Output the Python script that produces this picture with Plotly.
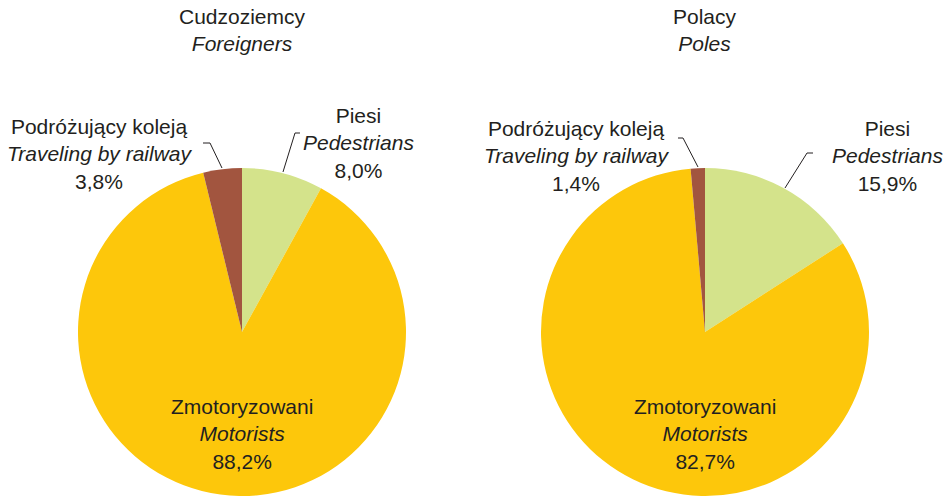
import plotly.graph_objects as go

W, H = 946, 496

categories_pl = ["Piesi", "Zmotoryzowani", "Podróżujący koleją"]
categories_en = ["Pedestrians", "Motorists", "Traveling by railway"]
foreigners = [8.0, 88.2, 3.8]
poles = [15.9, 82.7, 1.4]
titles_pl = ["Cudzoziemcy", "Polacy"]
titles_en = ["Foreigners", "Poles"]
colors = ["#D4E38B", "#FDC70B", "#A2553F"]

FONT = "Liberation Sans, Arial, sans-serif"
TXT = "#231F20"
FS = 21


def px(x):
    return x / W


def py(y):
    return 1 - y / H


def fmt(v):
    return f"{v:.1f}".replace(".", ",") + "%"


fig = go.Figure()

pies = [
    (foreigners, 242, 165),
    (poles, 705, 165),
]
for vals, cx, r in pies:
    fig.add_trace(go.Pie(
        labels=categories_pl,
        values=vals,
        sort=False,
        direction="clockwise",
        rotation=0,
        marker=dict(colors=colors, line=dict(width=0)),
        textinfo="none",
        hoverinfo="label+percent",
        showlegend=False,
        domain=dict(x=[px(cx - r), px(cx + r)], y=[0, py(168)]),
    ))

# label positions (pixel centres) for each pie: pedestrians, motorists, railway, title
label_pos = [
    {"title": (242, 30), 0: (358, 143), 1: (242, 434), 2: (100, 154)},
    {"title": (705, 30), 0: (887, 156), 1: (705, 434), 2: (577, 156)},
]
data_sets = [foreigners, poles]
annotations = []
for k, vals in enumerate(data_sets):
    pos = label_pos[k]
    tx, ty = pos["title"]
    annotations.append(dict(
        x=px(tx), y=py(ty), xref="paper", yref="paper",
        text=f"{titles_pl[k]}<br><i>{titles_en[k]}</i>",
        showarrow=False, xanchor="center", yanchor="middle",
        font=dict(family=FONT, size=FS, color=TXT),
    ))
    for i in range(3):
        lx, ly = pos[i]
        annotations.append(dict(
            x=px(lx), y=py(ly), xref="paper", yref="paper",
            text=f"{categories_pl[i]}<br><i>{categories_en[i]}</i><br>{fmt(vals[i])}",
            showarrow=False, xanchor="center", yanchor="middle",
            font=dict(family=FONT, size=FS, color=TXT),
        ))

# leader lines (pixel paths)
leaders = [
    [(203, 143), (210, 143), (222, 168)],
    [(300, 133), (295, 133), (283, 172)],
    [(678, 138), (683, 138), (698, 167)],
    [(813, 153), (807, 153), (785, 188)],
]
shapes = []
for pts in leaders:
    path = "M " + " L ".join(f"{px(x):.5f},{py(y):.5f}" for x, y in pts)
    shapes.append(dict(type="path", xref="paper", yref="paper", path=path,
                       line=dict(color=TXT, width=1)))

fig.update_layout(
    width=W, height=H,
    margin=dict(l=0, r=0, t=0, b=0),
    paper_bgcolor="white",
    plot_bgcolor="white",
    annotations=annotations,
    shapes=shapes,
)

fig.write_html(
    "out.html",
    config={"displayModeBar": False},
    post_script="document.body.style.margin='0';document.body.style.overflow='hidden';",
)
